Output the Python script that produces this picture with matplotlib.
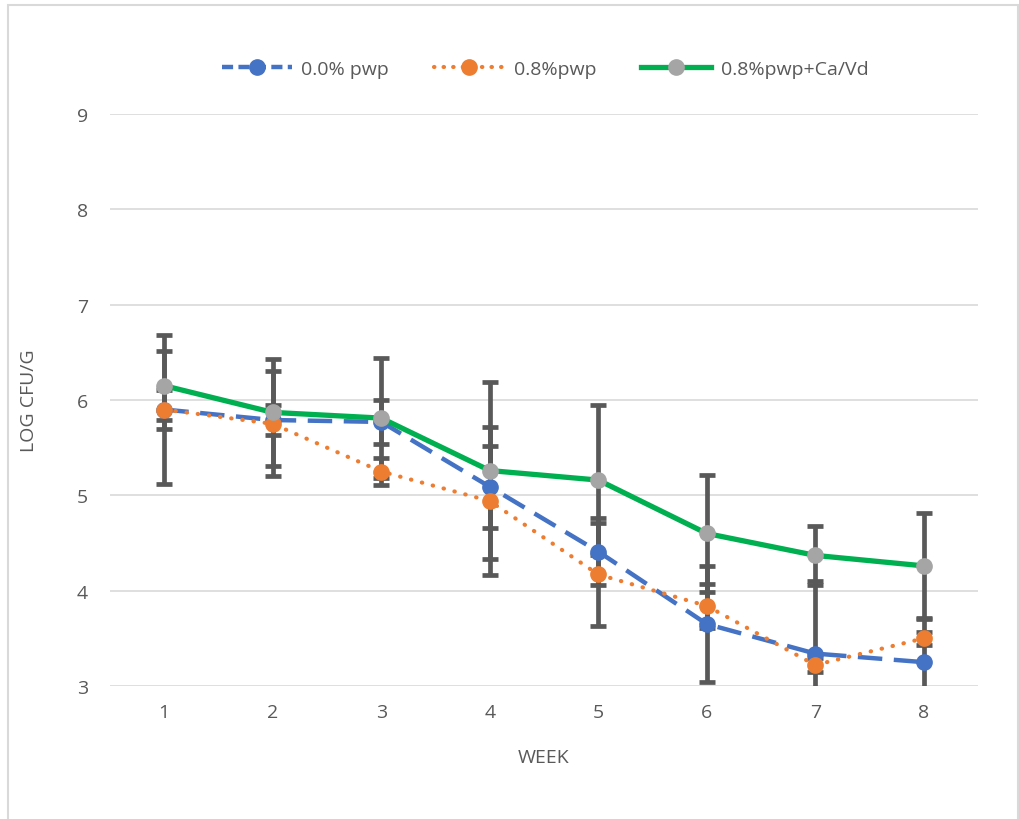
import numpy as np
import matplotlib
matplotlib.use("Agg")
import matplotlib.pyplot as plt
from matplotlib.lines import Line2D
from matplotlib.patches import Rectangle

plt.rcParams['font.family'] = ['Open Sans', 'DejaVu Sans']

weeks = [1, 2, 3, 4, 5, 6, 7, 8]
labels = ['0.0% pwp', '0.8%pwp', '0.8%pwp+Ca/Vd']

pwp_00 = [5.90, 5.79, 5.77, 5.09, 4.41, 3.65, 3.34, 3.25]
pwp_08 = [5.90, 5.75, 5.25, 4.94, 4.17, 3.84, 3.22, 3.50]
pwp_08_cavd = [6.15, 5.87, 5.81, 5.26, 5.16, 4.60, 4.37, 4.26]

err_00 = [0.20, 0.16, 0.23, 0.43, 0.35, 0.61, 0.76, 0.45]
err_08 = [0.78, 0.55, 0.14, 0.78, 0.54, 0.23, 0.07, 0.07]
err_08_cavd = [0.36, 0.56, 0.63, 0.93, 0.79, 0.61, 0.31, 0.55]

txt = '#595959'
blue = '#4472C4'
orange = '#ED7D31'
green = '#00B050'
grey = '#A5A5A5'

fig = plt.figure(figsize=(10.2, 8.2), dpi=100)
fig.patches.append(Rectangle((8 / 1020, -0.01), 1010 / 1020, 1 - 6 / 820 + 0.01,
                             transform=fig.transFigure, fill=False,
                             edgecolor='#D9D9D9', linewidth=1.5))
ax = fig.add_axes([110 / 1020, 133 / 820, 868 / 1020, 572 / 820])

for vals, errs in [(pwp_00, err_00), (pwp_08, err_08), (pwp_08_cavd, err_08_cavd)]:
    ax.errorbar(weeks, vals, yerr=errs, fmt='none', ecolor='#595959',
                elinewidth=3.4, capsize=5.5, capthick=3.4, zorder=2)

ax.plot(weeks, pwp_00, color=blue, lw=3.2, dashes=(5.5, 2.6), marker='o',
        ms=11, mfc=blue, mec=blue, zorder=3)
ax.plot(weeks, pwp_08, color=orange, lw=3, dashes=(0.1, 2.6),
        dash_capstyle='round', marker='o', ms=11, mfc=orange, mec=orange, zorder=3)
ax.plot(weeks, pwp_08_cavd, color=green, lw=3.8, marker='o', ms=11,
        mfc=grey, mec=grey, zorder=4)

ax.set_xlim(0.5, 8.5)
ax.set_ylim(3, 9)
ax.set_yticks(range(3, 10))
ax.set_xticks(weeks)
ax.grid(axis='y', color='#D9D9D9', linewidth=1.2)
ax.set_axisbelow(True)
for s in ax.spines.values():
    s.set_visible(False)
ax.tick_params(length=0, labelsize=14, labelcolor=txt)
ax.tick_params(axis='y', pad=16)
ax.tick_params(axis='x', pad=12)
ax.set_xlabel('WEEK', fontsize=14, color=txt, labelpad=20)
ax.set_ylabel('LOG CFU/G', fontsize=14, color=txt, labelpad=28)

handles = [
    Line2D([], [], color=blue, lw=3.2, dashes=(2.5, 1.2), marker='o', ms=11,
           mfc=blue, mec=blue),
    Line2D([], [], color=orange, lw=3, dashes=(0.1, 2.2), dash_capstyle='round',
           marker='o', ms=11, mfc=orange, mec=orange),
    Line2D([], [], color=green, lw=3.8, marker='o', ms=11, mfc=grey, mec=grey),
]
leg = fig.legend(handles, labels, loc='center', bbox_to_anchor=(545 / 1020, 1 - 70 / 820),
                 ncol=3, frameon=False, fontsize=14, handlelength=3.6,
                 columnspacing=2.3, handletextpad=0.5)
for t in leg.get_texts():
    t.set_color(txt)

fig.savefig('out.png', dpi=100)
